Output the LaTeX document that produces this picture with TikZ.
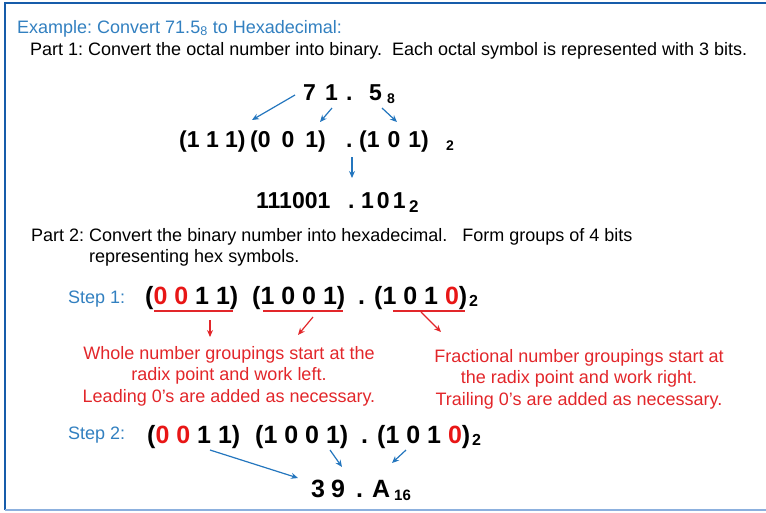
\documentclass[tikz,border=0pt]{standalone}
\usepackage{fontspec}
\setmainfont{Liberation Sans}
\usetikzlibrary{positioning, arrows.meta}

\definecolor{hdblue}{RGB}{50,128,192}
\definecolor{arrowblue}{RGB}{36,118,190}
\definecolor{notered}{RGB}{226,38,42}
\definecolor{digitred}{RGB}{232,22,22}
\definecolor{framedark}{RGB}{22,92,170}
\definecolor{framelight}{RGB}{140,176,222}

\newcommand{\rd}[1]{\textcolor{digitred}{#1}}
\frenchspacing

\tikzset{
    txt/.style={inner sep=0pt, anchor=base west, font=\fontsize{18}{21}\selectfont},
    head/.style={txt, text=hdblue},
    num/.style={inner sep=0pt, anchor=base west, font=\bfseries\fontsize{23}{25}\selectfont},
    bignum/.style={inner sep=0pt, anchor=base west, font=\bfseries\fontsize{25}{27}\selectfont},
    sub/.style={inner sep=0pt, anchor=base west, font=\bfseries\fontsize{#1}{#1}\selectfont},
    note/.style={inner sep=0pt, anchor=base, align=center, text=notered, font=\fontsize{18}{21.5}\selectfont},
    barrow/.style={->, arrowblue, line width=1.2pt},
    rarrow/.style={->, notered, line width=1.2pt},
    uline/.style={notered, line width=1.3pt},
}

\begin{document}
\begin{tikzpicture}[x=1pt, y=-1pt, >={Stealth[length=7pt,width=6pt]}]
    \useasboundingbox (0,0) rectangle (766,512);
    % Frame
    \draw[framedark, line width=2.5pt] (5,510) -- (5,3) -- (766,3);
    \draw[framelight, line width=1.5pt] (5,510) -- (766,510);

    % Headings
    \node[head] (title) at (17,33) {Example: Convert 71.5\textsubscript{8} to Hexadecimal:};
    \node[txt] (part1) at (30,55) {Part 1: Convert the octal number into binary.\ \ Each octal symbol is represented with 3 bits.};

    % Part 1: octal digits
    \node[num] (n7) at (303,100) {7};
    \node[num] (n1) at (325,100) {1};
    \node[num] (ndot) at (346,100) {.};
    \node[num] (n5) at (369,100) {5};
    \node[sub=14] (n8) at (387,103) {8};

    % Part 1: binary groups
    \node[num] (g1) at (179,147) {(1 1 1)};
    \node[num] (g2) at (250,147) {(0\hspace{11pt}0\hspace{11pt}1)};
    \node[num] (gdot) at (346,147) {.};
    \node[num] (g3) at (359,147) {(1\hspace{8pt}0\hspace{8pt}1)};
    \node[sub=14] (gsub) at (446,150) {2};

    % Part 1: result
    \node[num] (bin) at (256,208) {111001};
    \node[num] (bdot) at (348,208) {.};
    \node[num] (bfrac) at (361,208) {1\hspace{3pt}0\hspace{3pt}1};
    \node[sub=17] (bsub) at (409,212) {2};

    % Part 1 arrows
    \draw[barrow] ([xshift=-8pt,yshift=5pt]n7.base west) -- ([xshift=73pt,yshift=27pt]g1.base west);
    \draw[barrow] ([xshift=7pt,yshift=-8pt]n1.base west) -- ([xshift=70pt,yshift=25pt]g2.base west);
    \draw[barrow] ([xshift=13pt,yshift=-8pt]n5.base west) -- ([xshift=38pt,yshift=25pt]g3.base west);
    \draw[barrow] ([xshift=6pt,yshift=-10pt]gdot.base west) -- ([xshift=4pt,yshift=30pt]bdot.base west);

    % Part 2 text
    \node[txt] (part2) at (31,241) {Part 2: Convert the binary number into hexadecimal.\ \ \ Form groups of 4 bits};
    \node[txt] (part2b) at (89,262) {representing hex symbols.};

    % Step 1
    \node[head] (step1) at (68,303) {Step 1:};
    \node[bignum] (p1) at (145,304) {(\rd{0} \rd{0} 1 1)};
    \node[bignum] (p2) at (252,304) {(1 0 0 1)};
    \node[bignum] (pdot) at (358,304) {.};
    \node[bignum] (p3) at (374,304) {(1 0 1 \rd{0})};
    \node[sub=16] (psub) at (469,306) {2};

    % Underlines
    \draw[uline] ([xshift=9pt,yshift=-7pt]p1.base west) -- ++(79pt,0);
    \draw[uline] ([xshift=11pt,yshift=-7pt]p2.base west) -- ++(80pt,0);
    \draw[uline] ([xshift=19pt,yshift=-7pt]p3.base west) -- ++(72pt,0);

    % Notes (base = last line)
    \node[note] (noteL) at (229,402) {Whole number groupings start at the\\radix point and work left.\\Leading 0's are added as necessary.};
    \node[note] (noteR) at (579,405) {Fractional number groupings start at\\the radix point and work right.\\Trailing 0's are added as necessary.};

    \draw[rarrow] ([xshift=65pt,yshift=-16pt]p1.base west) -- ([xshift=-19pt,yshift=65pt]noteL.base);
    \draw[rarrow] ([xshift=61pt,yshift=-13pt]p2.base west) -- ([xshift=69pt,yshift=67pt]noteL.base);
    \draw[rarrow] ([xshift=47pt,yshift=-8pt]p3.base west) -- ([xshift=-138pt,yshift=73pt]noteR.base);

    % Step 2
    \node[head] (step2) at (68,439) {Step 2:};
    \node[bignum] (q1) at (147,443) {(\rd{0} \rd{0} 1 1)};
    \node[bignum] (q2) at (255,443) {(1 0 0 1)};
    \node[bignum] (qdot) at (361,443) {.};
    \node[bignum] (q3) at (377,443) {(1 0 1 \rd{0})};
    \node[sub=16] (qsub) at (472,445) {2};

    % Hex result
    \node[bignum] (h3) at (311,497) {3};
    \node[bignum] (h9) at (331,497) {9};
    \node[bignum] (hdot) at (356,497) {.};
    \node[bignum] (hA) at (372,497) {A};
    \node[sub=15] (h16) at (394,500) {16};

    \draw[barrow] ([xshift=63pt,yshift=-7pt]q1.base west) -- ([xshift=-13pt,yshift=19pt]h3.base west);
    \draw[barrow] ([xshift=75pt,yshift=-7pt]q2.base west) -- ([xshift=11pt,yshift=30pt]h9.base west);
    \draw[barrow] ([xshift=29pt,yshift=-7pt]q3.base west) -- ([xshift=20pt,yshift=34pt]hA.base west);
\end{tikzpicture}
\end{document}
